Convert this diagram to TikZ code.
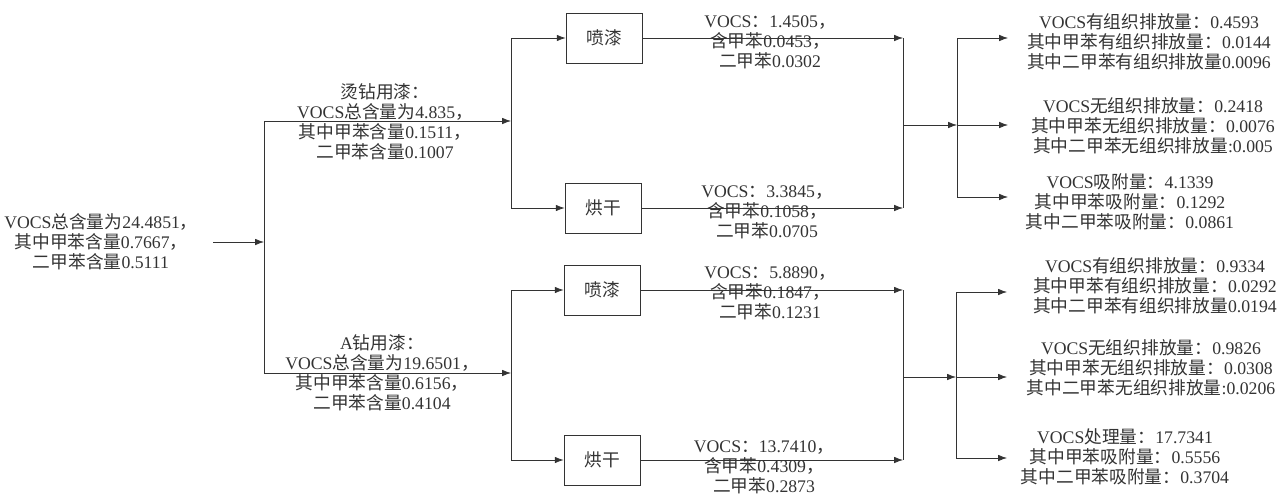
\documentclass[tikz,border=0pt]{standalone}
\usepackage{fontspec}
\usetikzlibrary{arrows.meta}
\setmainfont{Liberation Serif}
\newfontfamily\cjkfont{Noto Sans CJK SC}
% CJK letters and full-width signs go to the CJK font, the rest to the serif
\XeTeXinterchartokenstate=1
\newXeTeXintercharclass\cjkclass
\count255="4E00
\loop
  \XeTeXcharclass\count255=\cjkclass
  \ifnum\count255<"9FFF \advance\count255 by 1
\repeat
\count255="FF00
\loop
  \XeTeXcharclass\count255=\cjkclass
  \ifnum\count255<"FFEF \advance\count255 by 1
\repeat
\XeTeXinterchartoks 0 \cjkclass = {\cjkfont}
\XeTeXinterchartoks 4095 \cjkclass = {\cjkfont}
\XeTeXinterchartoks \cjkclass 0 = {\rmfamily}
\XeTeXinterchartoks 4095 0 = {\rmfamily}

\tikzset{
  wire/.style={black!80, line width=0.5pt},
  arr/.style={wire, -{Latex[length=2.2mm,width=1.6mm]}},
  box/.style={draw=black!80, line width=0.5pt, text=black!80, minimum width=1.9cm, minimum height=1.25cm, inner sep=0pt},
  txt/.style={align=center, text=black!80, inner sep=0pt}
}

\begin{document}
\begin{tikzpicture}[x=0.025cm, y=-0.025cm, font=\cjkfont\fontsize{12.6}{14.2}\selectfont]
\useasboundingbox (0,0) rectangle (1283,494);

\node[txt] (src) at (101,242) {VOCS总含量为24.4851，\\其中甲苯含量0.7667，\\二甲苯含量0.5111};
\node[txt] (tang) at (385,122) {烫钻用漆：\\VOCS总含量为4.835，\\其中甲苯含量0.1511，\\二甲苯含量0.1007};
\node[txt] (azuan) at (382,373) {A钻用漆：\\VOCS总含量为19.6501，\\其中甲苯含量0.6156，\\二甲苯含量0.4104};

\node[box] (pen1) at (604,38) {喷漆};
\node[box] (dry1) at (603,208) {烘干};
\node[box] (pen2) at (602,290) {喷漆};
\node[box] (dry2) at (602,460) {烘干};

\node[txt] (v1) at (770,42) {VOCS：1.4505，\\含甲苯0.0453，\\二甲苯0.0302};
\node[txt] (v2) at (767,212) {VOCS：3.3845，\\含甲苯0.1058，\\二甲苯0.0705};
\node[txt] (v3) at (770,293) {VOCS：5.8890，\\含甲苯0.1847，\\二甲苯0.1231};
\node[txt] (v4) at (764,467) {VOCS：13.7410，\\含甲苯0.4309，\\二甲苯0.2873};

\node[txt] (r1) at (1149,42) {VOCS有组织排放量：0.4593\\其中甲苯有组织排放量：0.0144\\其中二甲苯有组织排放量0.0096};
\node[txt] (r2) at (1153,126) {VOCS无组织排放量：0.2418\\其中甲苯无组织排放量：0.0076\\其中二甲苯无组织排放量:0.005};
\node[txt] (r3) at (1130,202) {VOCS吸附量：4.1339\\其中甲苯吸附量：0.1292\\其中二甲苯吸附量：0.0861};
\node[txt] (r4) at (1155,286) {VOCS有组织排放量：0.9334\\其中甲苯有组织排放量：0.0292\\其中二甲苯有组织排放量0.0194};
\node[txt] (r5) at (1151,368) {VOCS无组织排放量：0.9826\\其中甲苯无组织排放量：0.0308\\其中二甲苯无组织排放量:0.0206};
\node[txt] (r6) at (1125,457) {VOCS处理量：17.7341\\其中甲苯吸附量：0.5556\\其中二甲苯吸附量：0.3704};

\coordinate (s0in) at (213,242);
\coordinate (s0) at (264,242);
\coordinate (s1) at (264,121);
\coordinate (s2) at (264,373);
\coordinate (b1) at (511,121);
\coordinate (b2) at (511,373);
\coordinate (m1) at (903,125);
\coordinate (m2) at (903,377);
\coordinate (c1) at (957,125);
\coordinate (c2) at (956,377);
\coordinate (e1) at (1008,38);
\coordinate (e2) at (1008,125);
\coordinate (e3) at (1008,197);
\coordinate (e4) at (1007,292);
\coordinate (e5) at (1007,377);
\coordinate (e6) at (1007,458);

\draw[arr] (s0in) -- (s0);
\draw[wire] (s1) -- (s2);
\draw[arr] (s1) -- (b1);
\draw[arr] (s2) -- (b2);

\draw[wire] (b1 |- pen1) -- (b1 |- dry1);
\draw[arr] (b1 |- pen1) -- (pen1.west);
\draw[arr] (b1 |- dry1) -- (dry1.west);
\draw[wire] (b2 |- pen2) -- (b2 |- dry2);
\draw[arr] (b2 |- pen2) -- (pen2.west);
\draw[arr] (b2 |- dry2) -- (dry2.west);

\draw[arr] (pen1.east) -- (m1 |- pen1);
\draw[arr] (dry1.east) -- (m1 |- dry1);
\draw[wire] (m1 |- pen1) -- (m1 |- dry1);
\draw[arr] (pen2.east) -- (m2 |- pen2);
\draw[arr] (dry2.east) -- (m2 |- dry2);
\draw[wire] (m2 |- pen2) -- (m2 |- dry2);

\draw[arr] (m1) -- (c1);
\draw[wire] (c1 |- e1) -- (c1 |- e3);
\draw[arr] (c1 |- e1) -- (e1);
\draw[arr] (c1) -- (e2);
\draw[arr] (c1 |- e3) -- (e3);

\draw[arr] (m2) -- (c2);
\draw[wire] (c2 |- e4) -- (c2 |- e6);
\draw[arr] (c2 |- e4) -- (e4);
\draw[arr] (c2) -- (e5);
\draw[arr] (c2 |- e6) -- (e6);

\end{tikzpicture}
\end{document}
